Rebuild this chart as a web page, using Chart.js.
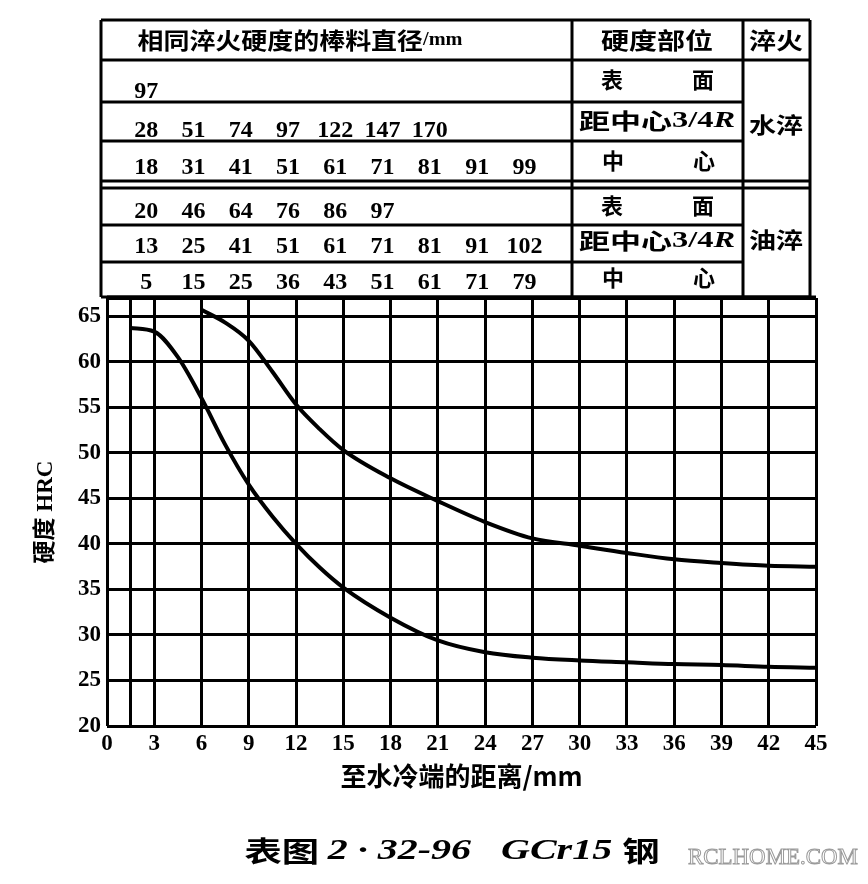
<!DOCTYPE html>
<html>
<head>
<meta charset="utf-8">
<script src="https://cdn.jsdelivr.net/npm/chart.js@4.4.1/dist/chart.umd.min.js"></script>
<style>
  html, body { margin: 0; padding: 0; background: #fff; }
  #wrap { width: 868px; height: 884px; position: relative; }
</style>
</head>
<body>
<div id="wrap"><canvas id="jominy"></canvas></div>
<script>
// distance from quenched end (mm) and hardness (HRC)
const lowerDist = [1.5, 3, 4.5, 6, 7.5, 9, 10.5, 12, 13.5, 15, 18, 21, 24, 27, 30, 33, 36, 39, 42, 45];
const lowerHrc  = [63.7, 63.3, 60.5, 56.0, 50.9, 46.5, 43.0, 40.0, 37.4, 35.2, 31.9, 29.4, 28.1, 27.5, 27.2, 27.0, 26.8, 26.7, 26.5, 26.4];
const upperDist = [6, 7.5, 9, 10.5, 12, 13.5, 15, 18, 21, 24, 27, 30, 33, 36, 39, 42, 45];
const upperHrc  = [65.7, 64.3, 62.3, 58.9, 55.3, 52.6, 50.3, 47.2, 44.7, 42.4, 40.6, 39.8, 39.0, 38.3, 37.9, 37.6, 37.5];

const xGrid = [0, 1.5, 3, 6, 9, 12, 15, 18, 21, 24, 27, 30, 33, 36, 39, 42, 45];
const xTickLabels = [0, 3, 6, 9, 12, 15, 18, 21, 24, 27, 30, 33, 36, 39, 42, 45];
const yGrid = [20, 25, 30, 35, 40, 45, 50, 55, 60, 65, 67];
const yTickLabels = [20, 25, 30, 35, 40, 45, 50, 55, 60, 65];

// bar diameters (mm) with the same quenched hardness
const waterSurface = [97];
const waterThreeQuarter = [28, 51, 74, 97, 122, 147, 170];
const waterCenter = [18, 31, 41, 51, 61, 71, 81, 91, 99];
const oilSurface = [20, 46, 64, 76, 86, 97];
const oilThreeQuarter = [13, 25, 41, 51, 61, 71, 81, 91, 102];
const oilCenter = [5, 15, 25, 36, 43, 51, 61, 71, 79];

const CJK = '"Noto Sans CJK SC"';
const SERIF = '"Liberation Serif"';

function drawParts(ctx, parts, cx, cy, width) {
  let total = 0;
  parts.forEach(p => { ctx.font = p.font; p.w = ctx.measureText(p.text).width; total += p.w; });
  const k = width ? width / total : 1;
  ctx.save();
  ctx.translate(cx - total * k / 2, cy);
  ctx.scale(k, 1);
  ctx.textAlign = 'left';
  ctx.textBaseline = 'middle';
  let x = 0;
  parts.forEach(p => {
    ctx.font = p.font;
    if (p.stroke) { ctx.strokeText(p.text, x, 0); } else { ctx.fillText(p.text, x, 0); }
    x += p.w;
  });
  ctx.restore();
}

const tablePlugin = {
  id: 'hardenTable',
  afterDraw(chart) {
    const ctx = chart.ctx;
    const xs = chart.scales.x;
    const L = 101, C1 = 572, C2 = 743, R = 810;
    ctx.save();
    ctx.strokeStyle = '#000';
    ctx.fillStyle = '#000';
    ctx.lineWidth = 3;
    const line = (x1, y1, x2, y2) => { ctx.beginPath(); ctx.moveTo(x1, y1); ctx.lineTo(x2, y2); ctx.stroke(); };
    [20, 60, 181, 188, 297].forEach(y => line(L, y, R, y));
    [102, 141, 225, 262].forEach(y => line(L, y, C2, y));
    [L, C1, C2, R].forEach(x => line(x, 20, x, 297));
    line(chart.chartArea.left, 297, chart.chartArea.right, 297);

    // header
    const hdr = 'bold 23px ' + CJK;
    drawParts(ctx, [{ text: '相同淬火硬度的棒料直径', font: hdr }, { text: '/mm', font: 'bold 18px ' + SERIF }], 300, 40, 325);
    drawParts(ctx, [{ text: '硬度部位', font: hdr }], 657, 40, 112);
    drawParts(ctx, [{ text: '淬火', font: hdr }], 776, 40, 54);

    // diameters
    const rows = [
      { values: waterSurface, y: 92 },
      { values: waterThreeQuarter, y: 131 },
      { values: waterCenter, y: 168 },
      { values: oilSurface, y: 212 },
      { values: oilThreeQuarter, y: 247 },
      { values: oilCenter, y: 283 }
    ];
    ctx.font = 'bold 24px ' + SERIF;
    ctx.textAlign = 'center';
    ctx.textBaseline = 'middle';
    rows.forEach(r => r.values.forEach((v, i) => {
      ctx.fillText(String(v), xs.getPixelForValue(3 * (i + 1)) - 8, r.y);
    }));

    // positions
    const lab = 'bold 22px ' + CJK;
    const pos = [80, 121, 161, 206, 241, 278];
    [0, 3].forEach(o => {
      drawParts(ctx, [{ text: '表', font: lab }], 612, pos[o]);
      drawParts(ctx, [{ text: '面', font: lab }], 703, pos[o]);
      drawParts(ctx, [
        { text: '距中心', font: lab },
        { text: '3/4', font: 'bold 23px ' + SERIF },
        { text: 'R', font: 'italic bold 23px ' + SERIF }
      ], 657, pos[o + 1], 156);
      drawParts(ctx, [{ text: '中', font: lab }], 613, pos[o + 2]);
      drawParts(ctx, [{ text: '心', font: lab }], 704, pos[o + 2]);
    });
    drawParts(ctx, [{ text: '水淬', font: lab }], 776, 125, 54);
    drawParts(ctx, [{ text: '油淬', font: lab }], 776, 240, 54);

    // caption
    drawParts(ctx, [
      { text: '表图 ', font: 'bold 28px ' + CJK },
      { text: '2 · 32-96   GCr15 ', font: 'italic bold 30px ' + SERIF },
      { text: '钢', font: 'bold 28px ' + CJK }
    ], 452, 851, 415);

    // watermark
    ctx.strokeStyle = '#9a9a9a';
    ctx.lineWidth = 1;
    drawParts(ctx, [{ text: 'RCLHOME.COM', font: '23px ' + SERIF, stroke: true }], 773, 858, 170);
    ctx.restore();
  }
};

const ctx = document.getElementById('jominy').getContext('2d');
const jominyChart = new Chart(ctx, {
  type: 'line',
  data: {
    datasets: [
      {
        label: 'upper',
        data: upperDist.map((d, i) => ({ x: d, y: upperHrc[i] })),
        borderColor: '#000',
        borderWidth: 4,
        pointRadius: 0,
        cubicInterpolationMode: 'monotone',
        fill: false
      },
      {
        label: 'lower',
        data: lowerDist.map((d, i) => ({ x: d, y: lowerHrc[i] })),
        borderColor: '#000',
        borderWidth: 4,
        pointRadius: 0,
        cubicInterpolationMode: 'monotone',
        fill: false
      }
    ]
  },
  options: {
    responsive: true,
    maintainAspectRatio: false,
    animation: false,
    layout: { padding: { left: 31, top: 298, right: 52, bottom: 84 } },
    plugins: {
      legend: { display: false },
      tooltip: { enabled: false }
    },
    scales: {
      x: {
        type: 'linear',
        min: 0,
        max: 45,
        afterBuildTicks: (scale) => { scale.ticks = xGrid.map(v => ({ value: v })); },
        afterFit: (scale) => { scale.height = 74; },
        grid: { color: '#000', lineWidth: 3, drawTicks: false },
        border: { display: false },
        ticks: {
          autoSkip: false,
          maxRotation: 0,
          padding: 4,
          color: '#000',
          font: { family: SERIF, size: 23, weight: 'bold' },
          callback: (v) => xTickLabels.includes(v) ? String(v) : ''
        },
        title: {
          display: true,
          text: '至水冷端的距离/mm',
          color: '#000',
          font: { family: CJK, size: 26, weight: 'bold' },
          padding: { top: 0, bottom: 8 }
        }
      },
      y: {
        type: 'linear',
        min: 20,
        max: 67,
        afterBuildTicks: (scale) => { scale.ticks = yGrid.map(v => ({ value: v })); },
        afterFit: (scale) => { scale.width = 76; },
        grid: { color: '#000', lineWidth: 3, drawTicks: false },
        border: { display: false },
        ticks: {
          padding: 6,
          color: '#000',
          font: { family: SERIF, size: 23, weight: 'bold' },
          callback: (v) => yTickLabels.includes(v) ? String(v) : ''
        },
        title: {
          display: true,
          text: '硬度 HRC',
          color: '#000',
          font: { family: SERIF + ', ' + CJK, size: 23, weight: 'bold' },
          padding: { top: 1, bottom: 0 }
        }
      }
    }
  },
  plugins: [tablePlugin]
});
</script>
</body>
</html>
